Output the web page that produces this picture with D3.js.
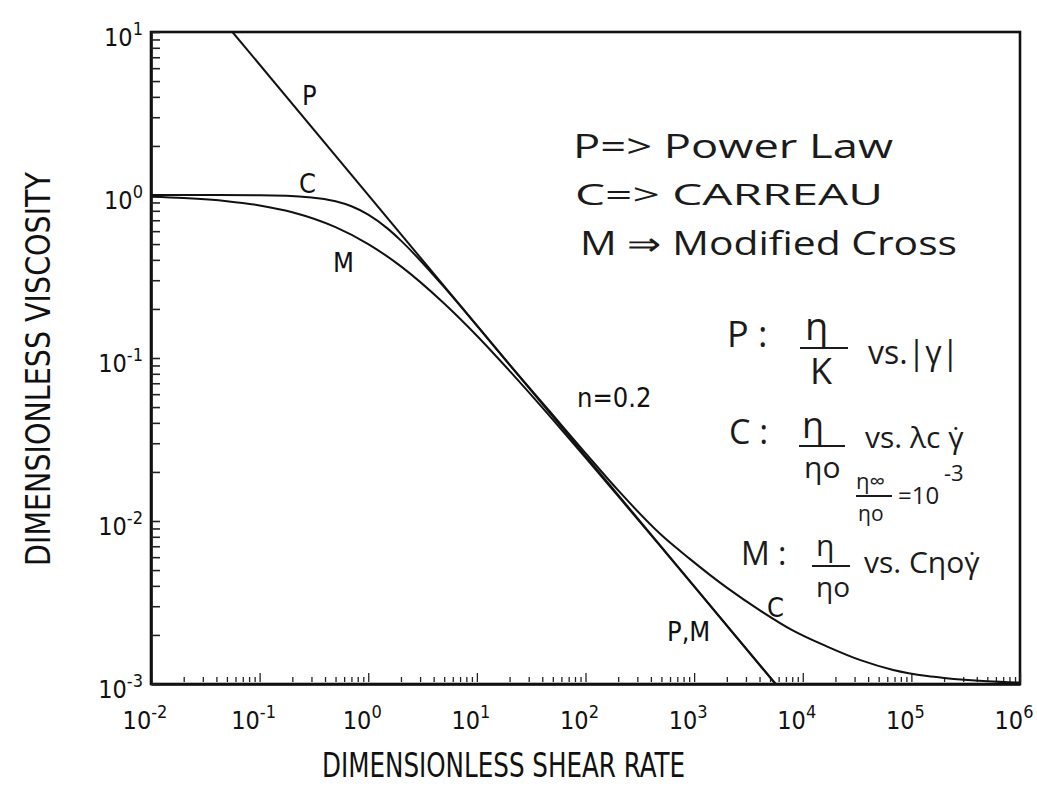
<!DOCTYPE html>
<html>
<head>
<meta charset="utf-8">
<script src="https://cdn.jsdelivr.net/npm/d3@7"></script>
<style>
  body { margin: 0; background: #fff; }
  svg { display: block; }
  .narrow { font-family: "Liberation Sans Narrow", "DejaVu Sans Condensed", "Liberation Sans", sans-serif; fill: #111; }
  .hand { font-family: "Open Sans", "Noto Sans", sans-serif; fill: #1b1b1b; }
</style>
</head>
<body>
<svg></svg>
<script>
// decades on each axis
const xExps = [-2, -1, 0, 1, 2, 3, 4, 5, 6];
const yExps = [-3, -2, -1, 0, 1];

// P: power law (straight line on log-log)
const powerX = [0.0562, 5623];
const powerY = [10, 0.001];

// C: Carreau
const carreauX = [0.01, 0.1, 0.3, 0.5, 0.7, 1, 1.5, 2, 3, 5, 10, 20, 50, 100, 200, 500, 900, 2000, 4000, 8000, 17000, 34000, 68000, 140000, 200000, 500000, 1000000];
const carreauY = [1.0, 0.996, 0.966, 0.915, 0.853, 0.758, 0.624, 0.525, 0.398, 0.272, 0.158, 0.0909, 0.0447, 0.0261, 0.0154, 0.0082, 0.0059, 0.0039, 0.00284, 0.00214, 0.00169, 0.0014, 0.00122, 0.00112, 0.00109, 0.00104, 0.00102];

// M: modified cross
const crossX = [0.01, 0.02, 0.05, 0.1, 0.2, 0.5, 1, 2, 5, 10, 20, 50, 100, 200, 500, 1000, 2000, 5623];
const crossY = [0.976, 0.958, 0.917, 0.863, 0.784, 0.635, 0.5, 0.365, 0.216, 0.137, 0.0834, 0.0419, 0.0245, 0.0142, 0.00688, 0.00397, 0.00228, 0.001];

let width = 1037;
let height = 802;
let plotLeft = 151, plotRight = 1020, plotTop = 32, plotBottom = 684;

let svg = d3.select("svg").attr("width", width).attr("height", height);

let x = d3.scaleLog().domain([1e-2, 1e6]).range([plotLeft, plotRight]);
let y = d3.scaleLog().domain([1e-3, 1e1]).range([plotBottom, plotTop]);

let isMajor = (d) => Math.abs(Math.log10(d) - Math.round(Math.log10(d))) < 1e-9;

svg.append("defs").append("clipPath").attr("id", "plot")
  .append("rect").attr("x", plotLeft).attr("y", plotTop)
  .attr("width", plotRight - plotLeft).attr("height", plotBottom - plotTop);

// frame (top and right sides)
svg.append("rect")
  .attr("x", plotLeft).attr("y", plotTop)
  .attr("width", plotRight - plotLeft).attr("height", plotBottom - plotTop)
  .attr("fill", "none").attr("stroke", "#111").attr("stroke-width", 2.6);

// x axis with inward ticks
let xAxis = svg.append("g")
  .attr("transform", "translate(0," + plotBottom + ")")
  .call(d3.axisBottom(x).tickValues(x.ticks()).tickSizeInner(-6).tickSizeOuter(0).tickFormat(""));
xAxis.select(".domain").attr("stroke", "#111").attr("stroke-width", 2.6);
xAxis.selectAll(".tick line")
  .attr("stroke", "#222").attr("stroke-width", 1.3)
  .attr("y1", -2)
  .attr("y2", (d) => (isMajor(d) ? -11 : -7));
xAxis.selectAll(".tick text").remove();

// y axis with inward ticks
let yAxis = svg.append("g")
  .attr("transform", "translate(" + plotLeft + ",0)")
  .call(d3.axisLeft(y).tickValues(y.ticks()).tickSizeInner(-9).tickSizeOuter(0).tickFormat(""));
yAxis.select(".domain").attr("stroke", "#111").attr("stroke-width", 2.6);
yAxis.selectAll(".tick line").attr("stroke", "#222").attr("stroke-width", 1.6);
yAxis.selectAll(".tick text").remove();

// power-of-ten labels
let powerLabel = (sel, e) => {
  sel.append("tspan").text("10");
  sel.append("tspan").attr("dy", "-0.6em").attr("font-size", "0.72em").text(String(e));
};

xExps.forEach((e) => {
  svg.append("text").attr("class", "narrow")
    .attr("x", x(Math.pow(10, e)) - 6).attr("y", plotBottom + 45)
    .attr("text-anchor", "middle").attr("font-size", 25)
    .call(powerLabel, e);
});

yExps.forEach((e) => {
  svg.append("text").attr("class", "narrow")
    .attr("x", plotLeft - 8).attr("y", y(Math.pow(10, e)) + 14)
    .attr("text-anchor", "end").attr("font-size", 25)
    .call(powerLabel, e);
});

// axis titles
svg.append("text").attr("class", "narrow")
  .attr("x", 322).attr("y", 777)
  .attr("font-size", 33)
  .attr("textLength", 363).attr("lengthAdjust", "spacingAndGlyphs")
  .text("DIMENSIONLESS SHEAR RATE");

svg.append("text").attr("class", "narrow")
  .attr("transform", "translate(50,566) rotate(-90)")
  .attr("font-size", 33)
  .attr("textLength", 394).attr("lengthAdjust", "spacingAndGlyphs")
  .text("DIMENSIONLESS VISCOSITY");

// curves
let plot = svg.append("g").attr("clip-path", "url(#plot)");

let drawCurve = (xs, ys, curve) => {
  let pts = xs.map((d, i) => [d, ys[i]]);
  plot.append("path")
    .datum(pts)
    .attr("fill", "none")
    .attr("stroke", "#111")
    .attr("stroke-width", 2)
    .attr("d", d3.line().x((d) => x(d[0])).y((d) => y(d[1])).curve(curve));
};

drawCurve(powerX, powerY, d3.curveLinear);
drawCurve(carreauX, carreauY, d3.curveMonotoneX);
drawCurve(crossX, crossY, d3.curveMonotoneX);

// curve labels
let label = (txt, px, py, size) => {
  svg.append("text").attr("class", "narrow")
    .attr("x", px).attr("y", py).attr("font-size", size || 27).text(txt);
};
label("P", 302, 105);
label("C", 299, 193);
label("M", 333, 272);
label("n=0.2", 577, 407);
label("P,M", 667, 641);
label("C", 767, 617);

// handwritten notes
let hand = (txt, px, py, size, len) => {
  let t = svg.append("text").attr("class", "hand")
    .attr("x", px).attr("y", py).attr("font-size", size).text(txt);
  if (len) t.attr("textLength", len).attr("lengthAdjust", "spacingAndGlyphs");
  return t;
};
hand("P=> Power Law", 573, 158, 32, 320);
hand("C=> CARREAU", 575, 205, 30, 308);
hand("M \u21d2 Modified Cross", 580, 255, 32, 377);

let bar = (x1, x2, yy) => {
  svg.append("line").attr("x1", x1).attr("x2", x2).attr("y1", yy).attr("y2", yy)
    .attr("stroke", "#1b1b1b").attr("stroke-width", 2);
};

// P : eta/K vs |gamma|
hand("P :", 727, 347, 36);
hand("\u03b7", 805, 340, 38);
bar(800, 848, 348);
hand("K", 810, 384, 36);
hand("vs.|\u03b3|", 868, 364, 32);

// C : eta/eta0 vs lambda_c gamma-dot
hand("C :", 729, 444, 34);
hand("\u03b7", 802, 438, 36);
bar(799, 845, 446);
hand("\u03b7o", 804, 478, 30);
hand("vs. \u03bbc \u03b3\u0307", 865, 448, 30);

// eta_inf / eta0 = 10^-3
hand("\u03b7\u221e", 856, 489, 22);
bar(856, 892, 496);
hand("\u03b7o", 858, 521, 21);
hand("=10", 898, 504, 24);
hand("-3", 944, 481, 22);

// M : eta/eta0 vs C eta0 gamma-dot
hand("M :", 741, 565, 32);
hand("\u03b7", 816, 556, 30);
bar(812, 850, 566);
hand("\u03b7o", 816, 597, 28);
hand("vs. C\u03b7o\u03b3\u0307", 864, 573, 30);
</script>
</body>
</html>
